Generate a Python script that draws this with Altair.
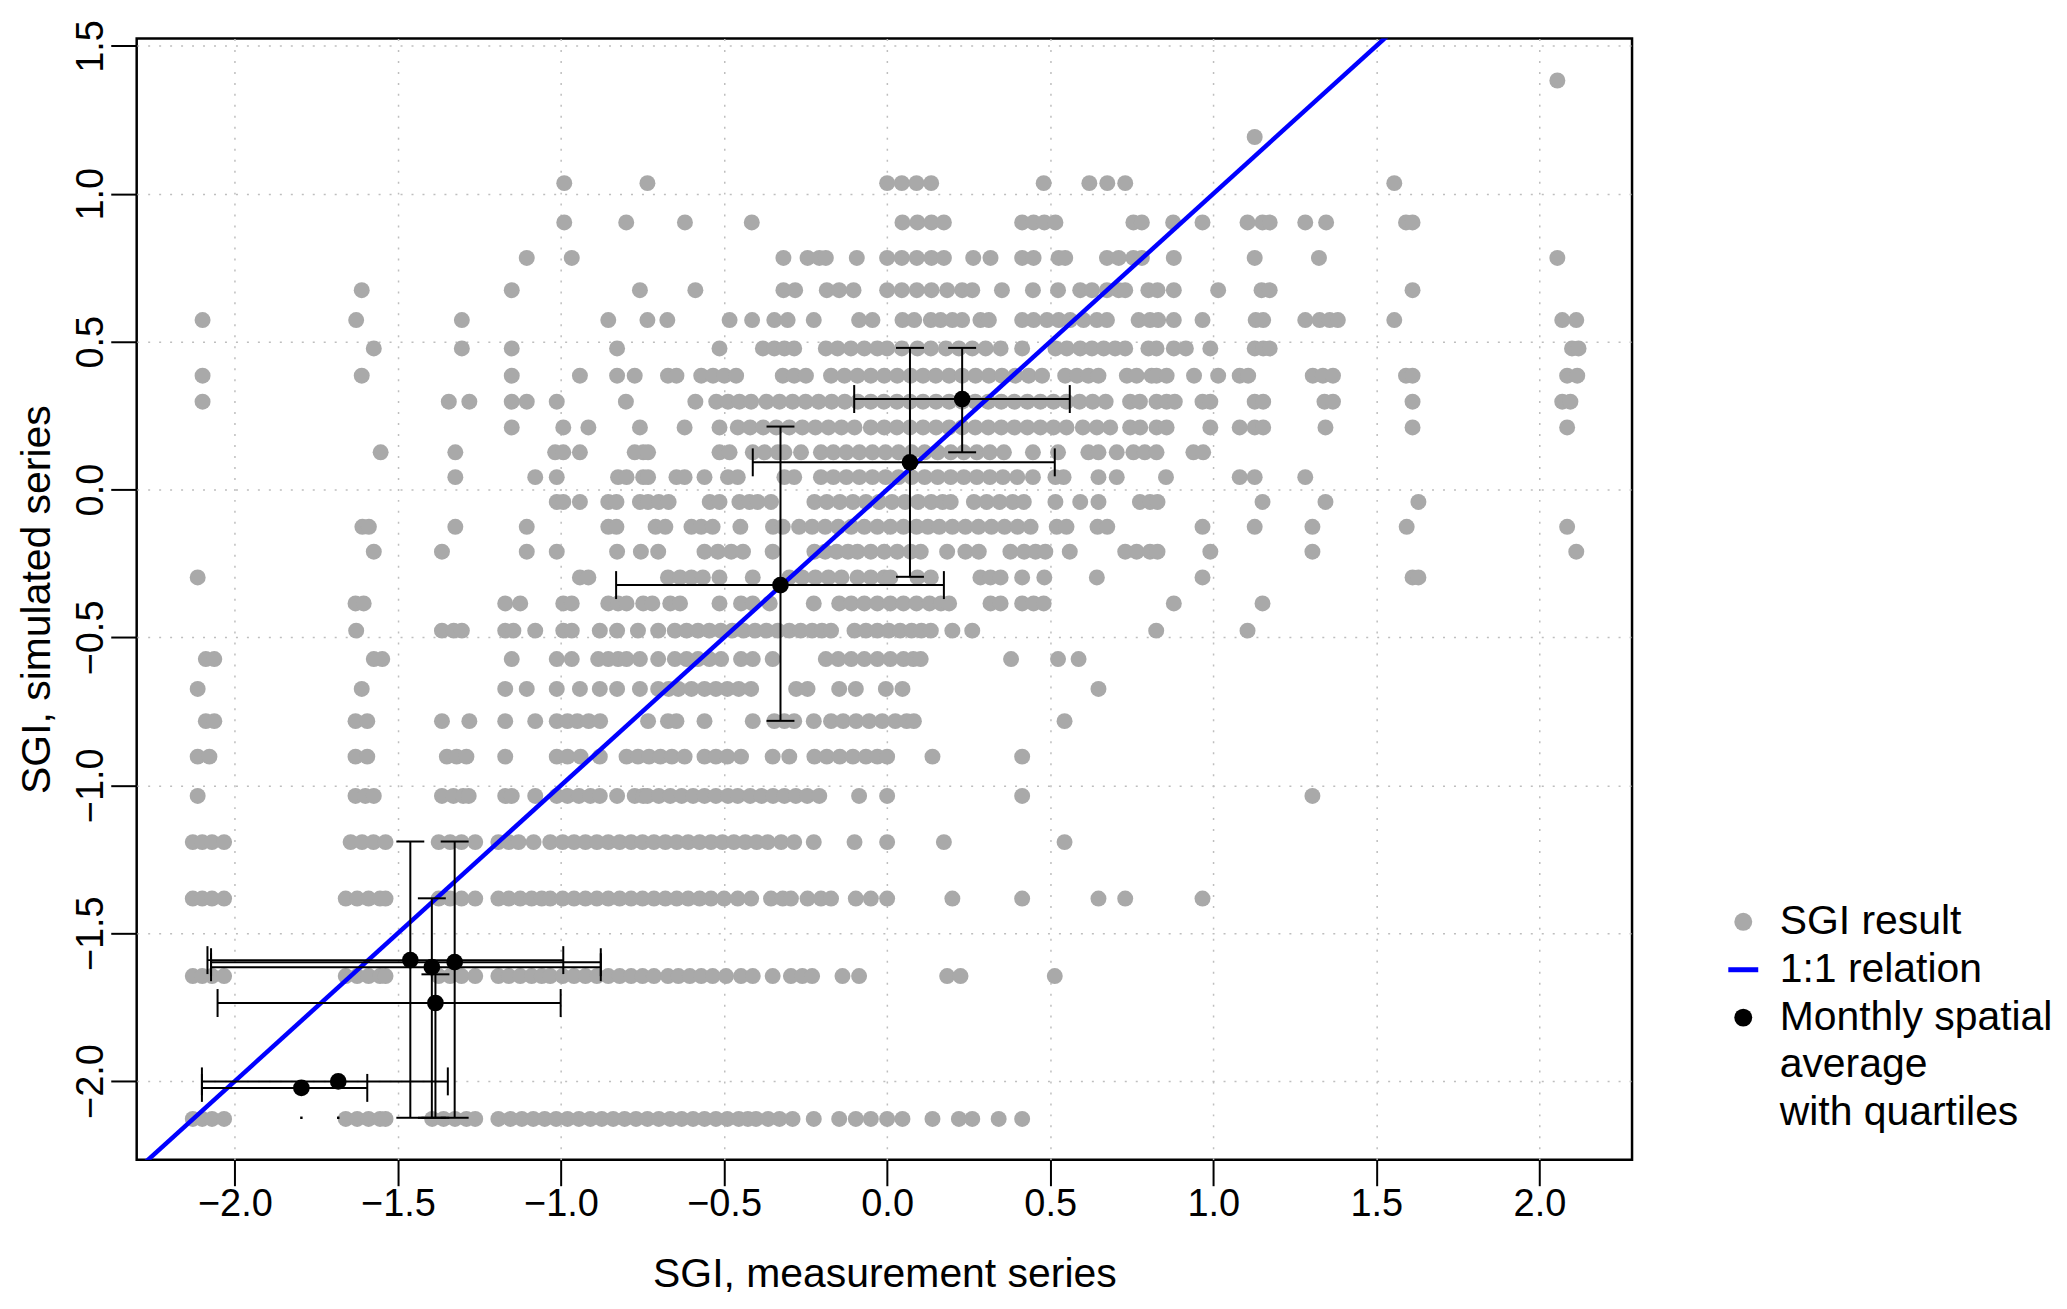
import altair as alt
import pandas as pd

FONT = "Liberation Sans"

# ---- simulated SGI levels (y) of the rows of results, bottom to top ----
sim_levels = [-2.128, -1.645, -1.383, -1.192, -1.036, -0.903, -0.783, -0.674,
              -0.573, -0.477, -0.385, -0.297, -0.210, -0.126, -0.042, 0.042,
              0.126, 0.210, 0.297, 0.385, 0.477, 0.573, 0.674, 0.783, 0.903,
              1.036, 1.192, 1.383]

# ---- measured SGI values (x) for each simulated level ----
meas_row_01 = [-2.129, -2.100, -2.070, -2.033, -1.660, -1.625, -1.590, -1.555, -1.538, -1.395, -1.360, -1.325, -1.290, -1.263, -1.192, -1.155, -1.120, -1.085, -1.050, -1.015, -0.980, -0.945, -0.910, -0.875, -0.840, -0.805, -0.770, -0.735, -0.700, -0.665, -0.630, -0.595, -0.560, -0.525, -0.490, -0.455, -0.427, -0.402, -0.365, -0.330, -0.290, -0.225, -0.147, -0.096, -0.050, 0.000, 0.047, 0.139, 0.220, 0.261, 0.342, 0.414]
meas_row_02 = [-2.129, -2.100, -2.070, -2.033, -1.660, -1.625, -1.590, -1.555, -1.538, -1.375, -1.340, -1.305, -1.263, -1.192, -1.160, -1.125, -1.090, -1.059, -1.033, -0.995, -0.960, -0.925, -0.890, -0.855, -0.820, -0.785, -0.750, -0.715, -0.672, -0.640, -0.605, -0.570, -0.535, -0.494, -0.448, -0.412, -0.351, -0.295, -0.260, -0.230, -0.137, -0.086, 0.184, 0.225, 0.514]
meas_row_03 = [-2.129, -2.100, -2.070, -2.033, -1.660, -1.625, -1.590, -1.555, -1.538, -1.375, -1.340, -1.305, -1.263, -1.192, -1.160, -1.125, -1.090, -1.059, -1.033, -0.995, -0.960, -0.925, -0.890, -0.855, -0.820, -0.785, -0.750, -0.715, -0.680, -0.645, -0.610, -0.575, -0.540, -0.500, -0.458, -0.417, -0.356, -0.320, -0.295, -0.244, -0.203, -0.172, -0.096, -0.050, 0.000, 0.200, 0.414, 0.648, 0.730, 0.967]
meas_row_04 = [-2.129, -2.100, -2.070, -2.033, -1.645, -1.610, -1.575, -1.538, -1.375, -1.340, -1.305, -1.263, -1.192, -1.160, -1.130, -1.084, -1.033, -0.995, -0.960, -0.925, -0.890, -0.855, -0.820, -0.785, -0.750, -0.715, -0.680, -0.645, -0.610, -0.575, -0.540, -0.505, -0.470, -0.435, -0.400, -0.366, -0.325, -0.285, -0.225, -0.100, 0.000, 0.174, 0.544]
meas_row_05 = [-2.114, -1.630, -1.600, -1.574, -1.365, -1.330, -1.300, -1.283, -1.171, -1.151, -1.079, -1.013, -0.980, -0.945, -0.910, -0.881, -0.828, -0.774, -0.748, -0.735, -0.700, -0.665, -0.630, -0.595, -0.560, -0.525, -0.488, -0.458, -0.420, -0.385, -0.350, -0.315, -0.280, -0.245, -0.208, -0.086, 0.000, 0.414, 1.304]
meas_row_06 = [-2.114, -2.078, -1.630, -1.594, -1.350, -1.320, -1.290, -1.171, -1.013, -0.980, -0.940, -0.881, -0.799, -0.764, -0.730, -0.695, -0.660, -0.621, -0.560, -0.525, -0.490, -0.448, -0.351, -0.300, -0.223, -0.185, -0.145, -0.105, -0.065, -0.030, 0.000, 0.139, 0.414]
meas_row_07 = [-2.089, -2.063, -1.630, -1.594, -1.365, -1.281, -1.171, -1.079, -1.013, -0.980, -0.950, -0.915, -0.880, -0.733, -0.672, -0.646, -0.560, -0.412, -0.346, -0.315, -0.285, -0.225, -0.172, -0.135, -0.095, -0.055, -0.015, 0.025, 0.060, 0.082, 0.544]
meas_row_08 = [-2.114, -1.611, -1.171, -1.105, -1.013, -0.942, -0.881, -0.828, -0.758, -0.702, -0.670, -0.640, -0.600, -0.560, -0.525, -0.490, -0.455, -0.417, -0.279, -0.244, -0.147, -0.096, -0.004, 0.047, 0.648]
meas_row_09 = [-2.089, -2.063, -1.574, -1.548, -1.151, -1.013, -0.967, -0.886, -0.855, -0.825, -0.799, -0.758, -0.702, -0.651, -0.615, -0.580, -0.545, -0.509, -0.448, -0.412, -0.351, -0.188, -0.150, -0.110, -0.070, -0.030, 0.010, 0.050, 0.080, 0.103, 0.380, 0.524, 0.587]
meas_row_10 = [-1.628, -1.365, -1.329, -1.304, -1.171, -1.146, -1.079, -0.993, -0.967, -0.881, -0.828, -0.764, -0.702, -0.651, -0.615, -0.580, -0.545, -0.510, -0.475, -0.440, -0.405, -0.370, -0.335, -0.300, -0.265, -0.230, -0.200, -0.172, -0.100, -0.065, -0.030, 0.005, 0.040, 0.075, 0.105, 0.134, 0.200, 0.261, 0.825, 1.105]
meas_row_11 = [-1.630, -1.605, -1.171, -1.125, -0.993, -0.967, -0.855, -0.825, -0.799, -0.748, -0.720, -0.665, -0.635, -0.514, -0.448, -0.412, -0.360, -0.225, -0.147, -0.110, -0.070, -0.030, 0.010, 0.050, 0.090, 0.130, 0.165, 0.190, 0.317, 0.348, 0.414, 0.449, 0.480, 0.879, 1.151]
meas_row_12 = [-2.114, -0.942, -0.916, -0.672, -0.635, -0.600, -0.565, -0.514, -0.412, -0.300, -0.260, -0.220, -0.180, -0.140, -0.091, -0.050, -0.009, 0.010, 0.093, 0.134, 0.286, 0.317, 0.348, 0.414, 0.482, 0.643, 0.967, 1.611, 1.629]
meas_row_13 = [-1.574, -1.365, -1.105, -1.013, -0.828, -0.755, -0.702, -0.560, -0.519, -0.478, -0.442, -0.351, -0.223, -0.190, -0.155, -0.120, -0.091, -0.050, -0.009, 0.031, 0.072, 0.103, 0.184, 0.240, 0.281, 0.378, 0.420, 0.455, 0.485, 0.560, 0.730, 0.765, 0.806, 0.829, 0.991, 1.304, 2.113]
meas_row_14 = [-1.609, -1.589, -1.324, -1.105, -0.855, -0.830, -0.710, -0.680, -0.600, -0.570, -0.535, -0.450, -0.350, -0.320, -0.270, -0.230, -0.190, -0.150, -0.110, -0.070, -0.030, 0.010, 0.050, 0.090, 0.125, 0.160, 0.200, 0.240, 0.280, 0.320, 0.360, 0.400, 0.440, 0.520, 0.550, 0.645, 0.675, 0.967, 1.127, 1.304, 1.593, 2.085]
meas_row_15 = [-1.013, -0.993, -0.942, -0.855, -0.830, -0.758, -0.733, -0.700, -0.670, -0.544, -0.514, -0.453, -0.422, -0.397, -0.356, -0.223, -0.185, -0.145, -0.105, -0.065, -0.025, 0.015, 0.055, 0.095, 0.135, 0.170, 0.195, 0.266, 0.305, 0.345, 0.385, 0.419, 0.516, 0.592, 0.648, 0.775, 0.806, 0.829, 1.151, 1.344, 1.629]
meas_row_16 = [-1.324, -1.079, -1.013, -0.825, -0.799, -0.748, -0.733, -0.646, -0.621, -0.560, -0.488, -0.458, -0.315, -0.285, -0.203, -0.165, -0.125, -0.085, -0.045, -0.005, 0.035, 0.075, 0.115, 0.155, 0.195, 0.235, 0.275, 0.315, 0.355, 0.399, 0.447, 0.516, 0.541, 0.648, 0.704, 0.855, 1.081, 1.127, 1.282]
meas_row_17 = [-1.553, -1.324, -1.018, -0.993, -0.942, -0.774, -0.748, -0.733, -0.514, -0.483, -0.412, -0.376, -0.335, -0.315, -0.264, -0.203, -0.165, -0.125, -0.085, -0.045, -0.005, 0.035, 0.075, 0.115, 0.155, 0.195, 0.235, 0.275, 0.315, 0.358, 0.447, 0.524, 0.617, 0.648, 0.704, 0.755, 0.790, 0.826, 0.939, 0.969]
meas_row_18 = [-1.151, -0.993, -0.916, -0.758, -0.621, -0.514, -0.458, -0.420, -0.380, -0.340, -0.300, -0.260, -0.220, -0.180, -0.140, -0.100, -0.050, -0.009, 0.030, 0.070, 0.110, 0.150, 0.190, 0.230, 0.270, 0.310, 0.350, 0.390, 0.430, 0.470, 0.510, 0.550, 0.600, 0.643, 0.684, 0.745, 0.776, 0.826, 0.857, 0.991, 1.081, 1.127, 1.153, 1.344, 1.611, 2.085]
meas_row_19 = [-2.099, -1.344, -1.281, -1.151, -1.105, -1.013, -0.801, -0.588, -0.524, -0.488, -0.453, -0.417, -0.370, -0.330, -0.290, -0.250, -0.210, -0.170, -0.130, -0.090, -0.050, -0.010, 0.030, 0.070, 0.110, 0.150, 0.190, 0.230, 0.270, 0.310, 0.350, 0.390, 0.430, 0.470, 0.510, 0.550, 0.590, 0.630, 0.670, 0.745, 0.775, 0.826, 0.857, 0.882, 0.967, 0.991, 1.127, 1.153, 1.341, 1.367, 1.611, 2.070, 2.095]
meas_row_20 = [-2.099, -1.611, -1.151, -0.942, -0.828, -0.774, -0.672, -0.646, -0.570, -0.534, -0.499, -0.463, -0.320, -0.285, -0.249, -0.172, -0.131, -0.091, -0.050, -0.009, 0.031, 0.072, 0.110, 0.149, 0.190, 0.230, 0.271, 0.312, 0.352, 0.393, 0.434, 0.475, 0.546, 0.582, 0.617, 0.648, 0.735, 0.765, 0.811, 0.826, 0.857, 0.941, 1.015, 1.081, 1.107, 1.305, 1.336, 1.367, 1.591, 1.611, 2.085, 2.116]
meas_row_21 = [-1.574, -1.304, -1.151, -0.828, -0.514, -0.381, -0.346, -0.315, -0.285, -0.188, -0.152, -0.111, -0.070, -0.030, 0.000, 0.045, 0.093, 0.134, 0.180, 0.220, 0.261, 0.302, 0.348, 0.414, 0.516, 0.551, 0.592, 0.628, 0.664, 0.699, 0.730, 0.801, 0.826, 0.879, 0.916, 0.991, 1.127, 1.153, 1.173, 2.100, 2.120]
meas_row_22 = [-2.099, -1.628, -1.304, -0.855, -0.735, -0.674, -0.483, -0.414, -0.346, -0.305, -0.225, -0.086, -0.045, 0.047, 0.083, 0.134, 0.164, 0.200, 0.230, 0.286, 0.312, 0.414, 0.449, 0.490, 0.526, 0.561, 0.602, 0.643, 0.674, 0.771, 0.806, 0.831, 0.879, 0.967, 1.130, 1.153, 1.282, 1.326, 1.357, 1.382, 1.555, 2.070, 2.113]
meas_row_23 = [-1.611, -1.151, -0.758, -0.588, -0.318, -0.282, -0.185, -0.147, -0.103, 0.000, 0.045, 0.091, 0.136, 0.184, 0.230, 0.261, 0.352, 0.447, 0.524, 0.592, 0.628, 0.674, 0.710, 0.730, 0.801, 0.829, 0.879, 1.015, 1.148, 1.173, 1.611]
meas_row_24 = [-1.105, -0.967, -0.318, -0.244, -0.208, -0.188, -0.093, 0.000, 0.045, 0.091, 0.136, 0.174, 0.264, 0.317, 0.414, 0.449, 0.526, 0.546, 0.674, 0.710, 0.755, 0.781, 0.879, 1.127, 1.324, 2.055]
meas_row_25 = [-0.990, -0.800, -0.620, -0.415, 0.047, 0.093, 0.136, 0.174, 0.414, 0.449, 0.482, 0.516, 0.755, 0.781, 0.877, 0.967, 1.105, 1.151, 1.173, 1.282, 1.346, 1.591, 1.611]
meas_row_26 = [-0.990, -0.735, 0.000, 0.045, 0.090, 0.135, 0.480, 0.620, 0.675, 0.730, 1.555]
meas_row_27 = [1.127]
meas_row_28 = [2.055]

meas_rows = [meas_row_01, meas_row_02, meas_row_03, meas_row_04, meas_row_05,
             meas_row_06, meas_row_07, meas_row_08, meas_row_09, meas_row_10,
             meas_row_11, meas_row_12, meas_row_13, meas_row_14, meas_row_15,
             meas_row_16, meas_row_17, meas_row_18, meas_row_19, meas_row_20,
             meas_row_21, meas_row_22, meas_row_23, meas_row_24, meas_row_25,
             meas_row_26, meas_row_27, meas_row_28]

# ---- monthly spatial averages with quartiles ----
mean_meas = [0.230, 0.070, -0.327, -1.462, -1.396, -1.326, -1.385, -1.796, -1.683]
mean_sim = [0.306, 0.092, -0.323, -1.591, -1.615, -1.598, -1.736, -2.023, -2.001]
meas_q1 = [-0.101, -0.412, -0.831, -2.084, -2.073, -2.073, -2.053, -2.101, -2.101]
meas_q3 = [0.560, 0.514, 0.174, -0.993, -0.878, -0.878, -1.001, -1.594, -1.347]
sim_q1 = [0.126, -0.295, -0.782, -2.124, -2.124, -2.124, -2.124, -2.124, -2.124]
sim_q3 = [0.479, 0.479, 0.213, -1.190, -1.382, -1.190, -1.639, -2.124, -2.124]

# ---- 1:1 relation ----
line_vals = [-2.5, 2.5]

# ---- legend (last two entries are the wrapped lines of the third label) ----
legend_labels = ["SGI result", "1:1 relation", "Monthly spatial", "average", "with quartiles"]
legend_colors = ["#A9A9A9", "#0000FF", "#000000", "rgba(0,0,0,0)", "rgba(0,0,0,0)"]

x_ticks = [-2.0, -1.5, -1.0, -0.5, 0.0, 0.5, 1.0, 1.5, 2.0]
y_ticks = [-2.0, -1.5, -1.0, -0.5, 0.0, 0.5, 1.0, 1.5]

pts = pd.DataFrame(
    [{"meas": xv, "sim": lv, "series": legend_labels[0]}
     for lv, xs in zip(sim_levels, meas_rows) for xv in xs]
)
means = pd.DataFrame({
    "meas": mean_meas, "sim": mean_sim,
    "mq1": meas_q1, "mq3": meas_q3, "sq1": sim_q1, "sq3": sim_q3,
    "series": legend_labels[2],
})
line_df = pd.DataFrame({"meas": line_vals, "sim": line_vals})

xscale = alt.Scale(domain=[-2.301, 2.284], nice=False, zero=False)
yscale = alt.Scale(domain=[-2.266, 1.525], nice=False, zero=False)

common_axis = dict(
    grid=True, gridColor="#BEBEBE", gridDash=[2, 9], gridWidth=1.5,
    domain=False, ticks=True, tickSize=26, tickWidth=2, tickColor="black",
    labelFont=FONT, labelFontSize=38, labelColor="black",
    labelFlush=False, labelOverlap=False, format=".1f",
    titleFont=FONT, titleFontSize=41, titleFontWeight="normal", titleColor="black",
)
xaxis = alt.Axis(title="SGI, measurement series", values=x_ticks,
                 labelPadding=0, titlePadding=31, **common_axis)
yaxis = alt.Axis(title="SGI, simulated series", values=y_ticks,
                 labelAngle=270, labelAlign="center", labelBaseline="bottom",
                 labelPadding=0, titlePadding=14, **common_axis)

X = lambda f: alt.X(f, type="quantitative", scale=xscale, axis=xaxis)
Y = lambda f: alt.Y(f, type="quantitative", scale=yscale, axis=yaxis)

line_shape = "M-1.667,-0.278L1.667,-0.278L1.667,0.278L-1.667,0.278Z"
color_enc = alt.Color(
    "series:N",
    scale=alt.Scale(domain=legend_labels, range=legend_colors),
    legend=alt.Legend(
        title=None, orient="none", legendX=1590, legendY=865,
        labelFont=FONT, labelFontSize=41, labelColor="black", labelLimit=600,
        labelOffset=16, symbolSize=324, symbolStrokeWidth=0, symbolOpacity=1,
        rowPadding=6, padding=0,
    ),
)
shape_enc = alt.Shape(
    "series:N",
    scale=alt.Scale(domain=legend_labels,
                    range=["circle", line_shape, "circle", "circle", "circle"]),
)

gray = alt.Chart(pts).mark_point(filled=True, size=256, opacity=1, strokeWidth=0).encode(
    x=X("meas"), y=Y("sim"), color=color_enc, shape=shape_enc,
)

one_to_one = alt.Chart(line_df).mark_line(color="#0000FF", strokeWidth=4.5, clip=True).encode(
    x=X("meas"), y=Y("sim")
)

hbars = alt.Chart(means).mark_rule(color="black", strokeWidth=2).encode(
    x=X("mq1"), x2="mq3", y=Y("sim")
)
vbars = alt.Chart(means).mark_rule(color="black", strokeWidth=2).encode(
    x=X("meas"), y=Y("sq1"), y2="sq3"
)
cap_h = "M-1,0L1,0"
cap_v = "M0,-1L0,1"
vcap_lo = alt.Chart(means).transform_filter("datum.sq1 != datum.sq3").mark_point(
    shape=cap_h, size=784, filled=False, strokeWidth=2, color="black", opacity=1
).encode(x=X("meas"), y=Y("sq1"))
vcap_hi = alt.Chart(means).transform_filter("datum.sq1 != datum.sq3").mark_point(
    shape=cap_h, size=784, filled=False, strokeWidth=2, color="black", opacity=1
).encode(x=X("meas"), y=Y("sq3"))
hcap_lo = alt.Chart(means).mark_point(
    shape=cap_v, size=784, filled=False, strokeWidth=2, color="black", opacity=1
).encode(x=X("mq1"), y=Y("sim"))
hcap_hi = alt.Chart(means).mark_point(
    shape=cap_v, size=784, filled=False, strokeWidth=2, color="black", opacity=1
).encode(x=X("mq3"), y=Y("sim"))
flat = alt.Chart(means).transform_filter("datum.sq1 == datum.sq3").mark_point(
    shape="square", size=6, filled=True, color="black", opacity=1, strokeWidth=0
).encode(x=X("meas"), y=Y("sq1"))

black = alt.Chart(means).mark_point(filled=True, size=280, opacity=1, strokeWidth=0).encode(
    x=X("meas"), y=Y("sim"), color=color_enc, shape=shape_enc,
)

chart = alt.layer(
    gray, one_to_one, hbars, vbars, vcap_lo, vcap_hi, hcap_lo, hcap_hi, flat, black
).properties(
    width=1499, height=1124,
    autosize=alt.AutoSizeParams(type="none"),
    padding={"left": 129, "top": 29, "right": 428, "bottom": 140},
    background="white",
).configure_view(
    stroke="black", strokeWidth=2.5
)

chart.save("out.html", embed_options={"renderer": "svg", "actions": False})
